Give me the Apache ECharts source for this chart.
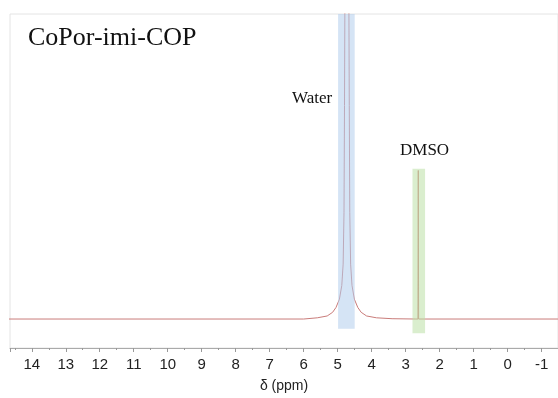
<!DOCTYPE html>
<html>
<head>
<meta charset="utf-8">
<script src="https://cdn.jsdelivr.net/npm/echarts@6/dist/echarts.min.js"></script>
<style>
  html, body {margin: 0; padding: 0; background: #fff;}
  #chart {width: 558px; height: 398px;}
</style>
</head>
<body>
<div id="chart"></div>
<script>
// spectrum (ppm, intensity)
const ppm = [14.8, 6.0, 5.6, 5.31, 5.15, 5.05, 4.95, 4.88, 4.84, 4.815, 4.80, 4.79, 4.77,
  4.69, 4.67, 4.66, 4.645, 4.62, 4.58, 4.51, 4.41, 4.31, 4.15, 3.86, 3.4,
  2.70, 2.64, 2.63, 2.62, -1.8]
const intensity = [0, 0, 0.004, 0.01, 0.022, 0.038, 0.065, 0.11, 0.18, 0.35, 0.7, 1.0, 1.5,
  1.5, 1.0, 0.7, 0.35, 0.18, 0.11, 0.065, 0.038, 0.022, 0.01, 0.004, 0.001,
  0, 0, 0.487, 0, 0]

// highlighted regions [from ppm, to ppm, bottom, top]
const waterBand = [4.99, 4.50, -0.032, 1.0]
const dmsoBand = [2.80, 2.43, -0.047, 0.493]

const title = 'CoPor-imi-COP'
const labels = ['Water', 'DMSO']

const chart = echarts.init(document.getElementById('chart'))

const option = {
  animation: false,
  grid: {
    left: 10, right: -5, top: 14, bottom: 40,
    show: true, borderColor: '#e4e4e4', borderWidth: 1
  },
  xAxis: {
    type: 'value',
    inverse: true,
    min: -1.48,
    max: 14.64,
    splitNumber: 16,
    name: 'δ (ppm)',
    nameLocation: 'middle',
    nameGap: 31,
    nameTextStyle: {fontFamily: 'Liberation Sans', fontSize: 14, color: '#222'},
    axisLine: {onZero: false, lineStyle: {color: '#aaa'}},
    axisTick: {length: 4, lineStyle: {color: '#999'}},
    minorTick: {show: true, splitNumber: 2, length: 2, lineStyle: {color: '#999'}},
    splitLine: {show: false},
    axisLabel: {
      fontFamily: 'Liberation Sans', fontSize: 15, color: '#222', margin: 9,
      showMinLabel: false, showMaxLabel: false
    }
  },
  yAxis: {
    type: 'value', min: -0.095, max: 1.0, show: false, splitLine: {show: false}
  },
  series: [
    {
      type: 'line',
      z: 2,
      data: ppm.map((p, i) => [p, intensity[i]]),
      showSymbol: false,
      lineStyle: {color: '#c97c7a', width: 1},
      clip: true
    },
    {
      // shaded regions drawn over the trace
      type: 'line',
      z: 3,
      data: [],
      markArea: {
        silent: true,
        z: 5,
        data: [
          [{xAxis: waterBand[0], yAxis: waterBand[2], itemStyle: {color: 'rgba(178,205,236,0.55)'}},
           {xAxis: waterBand[1], yAxis: waterBand[3]}],
          [{xAxis: dmsoBand[0], yAxis: dmsoBand[2], itemStyle: {color: 'rgba(188,224,165,0.55)'}},
           {xAxis: dmsoBand[1], yAxis: dmsoBand[3]}]
        ]
      }
    }
  ],
  graphic: [
    {type: 'text', left: 28, top: 25, style: {text: title, font: '26px "Liberation Serif"', fill: '#111'}},
    {type: 'text', left: 292, top: 90, style: {text: labels[0], font: '17px "Liberation Serif"', fill: '#111'}},
    {type: 'text', left: 400, top: 142, style: {text: labels[1], font: '17px "Liberation Serif"', fill: '#111'}}
  ]
}

chart.setOption(option)
</script>
</body>
</html>
